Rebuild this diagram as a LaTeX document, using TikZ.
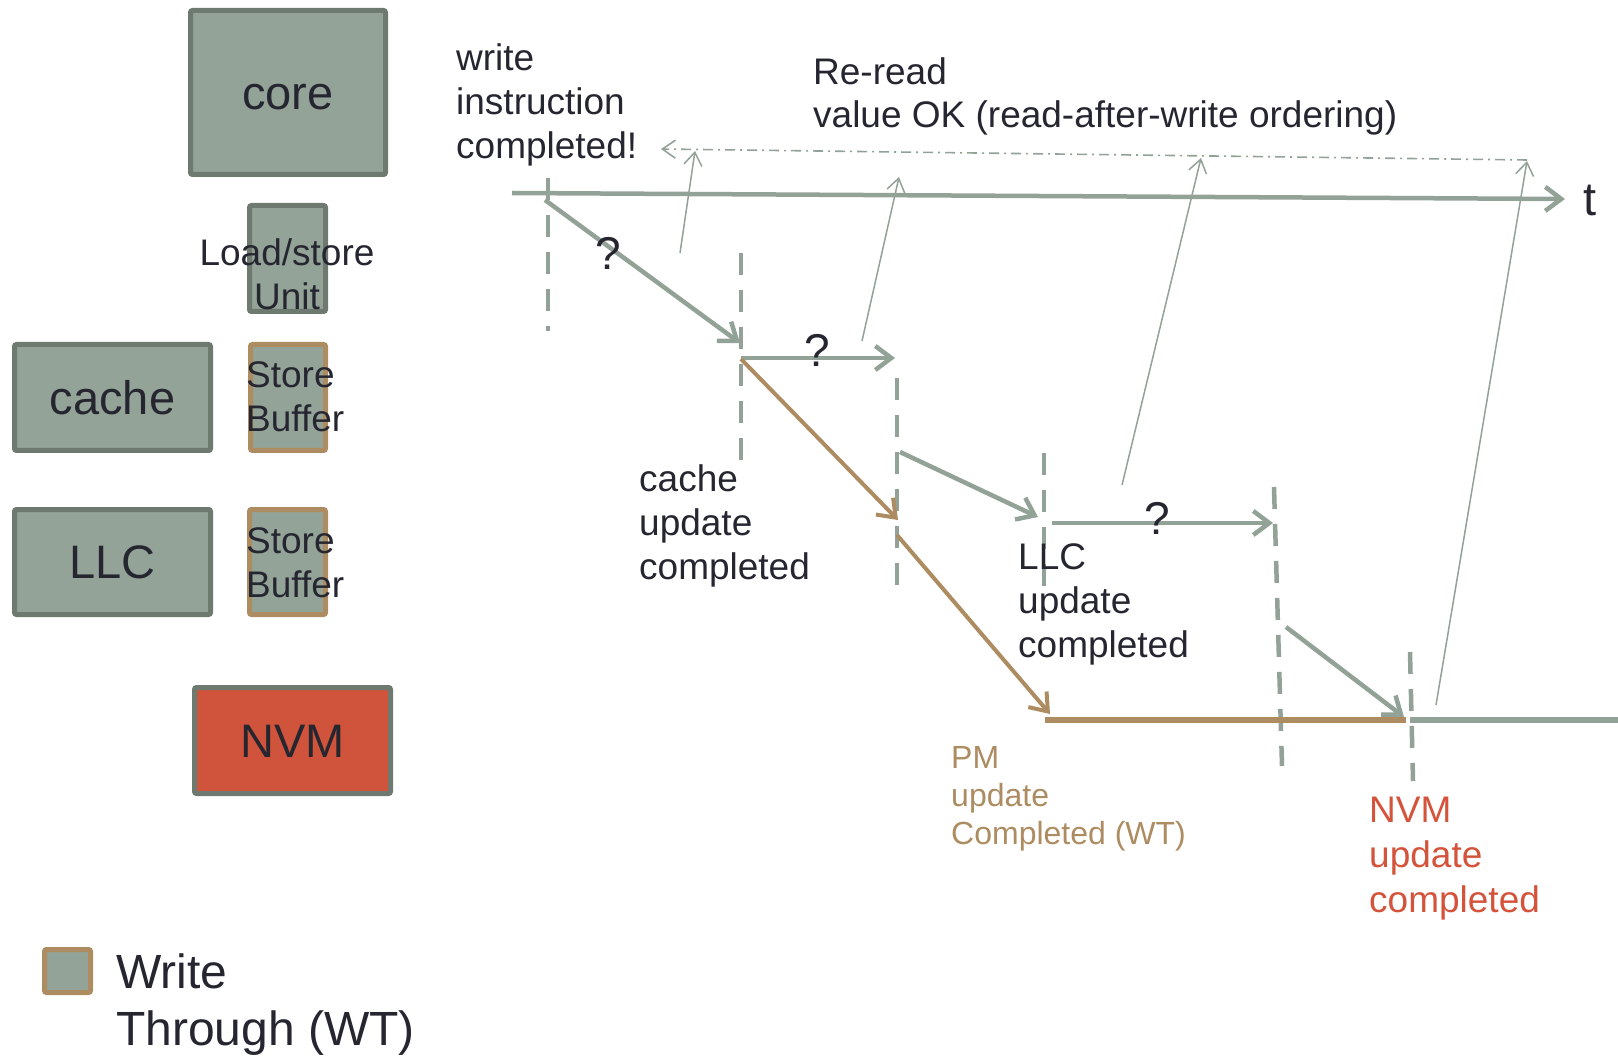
\documentclass[tikz,border=0pt]{standalone}
\usepackage{fontspec}
\setmainfont{Liberation Sans}
\usetikzlibrary{arrows.meta}

\definecolor{sage}{HTML}{93A397}
\definecolor{sageline}{HTML}{92A296}
\definecolor{sagethin}{HTML}{92A296}
\definecolor{frame}{HTML}{6E7A6F}
\definecolor{tan}{HTML}{AD8C62}
\definecolor{nvmred}{HTML}{CF543B}
\definecolor{redtext}{HTML}{D4533A}
\definecolor{ink}{HTML}{262631}

\newcommand\labelbig{\fontsize{47}{57}\selectfont}
\newcommand\labelmid{\fontsize{37}{44}\selectfont}
\newcommand\labelsmall{\fontsize{32}{38}\selectfont}

\begin{document}
\begin{tikzpicture}[x=1pt,y=-1pt,
  unit/.style={draw=frame, fill=sage, line width=5pt, rounded corners=2pt, inner sep=0pt, text=ink},
  wtunit/.style={unit, draw=tan},
  boxlabel/.style={font=\labelbig, text height=33.6pt, text depth=0pt},
  txt/.style={inner sep=0pt, text=ink, align=left, anchor=base west, font=\labelmid},
  qmark/.style={inner sep=0pt, text=ink, font=\fontsize{46}{50}\selectfont},
  thick arrow/.style={draw=sageline, line width=4.5pt,
    -{Straight Barb[length=16pt,width=24pt,line join=miter]}},
  wt arrow/.style={draw=tan, line width=4pt,
    -{Straight Barb[length=16pt,width=24pt,line join=miter]}},
  thin arrow/.style={draw=sagethin, line width=1.5pt,
    -{Straight Barb[length=13pt,width=18pt]}},
  marker/.style={draw=sageline, line width=4.5pt, dash pattern=on 22pt off 15pt},
]
\useasboundingbox (0,0) rectangle (1618,1056);

% ---- hierarchy on the left ----
\node[unit, boxlabel, minimum width=195pt, minimum height=164pt] (core) at (288,92.5) {core};
\node[unit, minimum width=76pt, minimum height=106pt] (lsu) at (287.5,258.5) {};
\node[inner sep=0pt, text=ink, align=center, anchor=base, font=\labelmid] (lsutext) at (287,310) {Load/store\\Unit};

\node[unit, boxlabel, minimum width=196pt, minimum height=106pt] (cache) at (112.5,397.5) {cache};
\node[wtunit, minimum width=75pt, minimum height=106pt] (sbone) at (288,397.5) {};
\node[txt] (sbonetext) at (246,432) {Store\\Buffer};

\node[unit, boxlabel, minimum width=196pt, minimum height=105pt] (llc) at (112.5,562) {LLC};
\node[wtunit, minimum width=76pt, minimum height=105pt] (sbtwo) at (287.5,562) {};
\node[txt] (sbtwotext) at (246,597) {Store\\Buffer};

\node[unit, boxlabel, fill=nvmred, minimum width=196pt, minimum height=106pt] (nvm) at (292.5,740.5) {NVM};

% ---- legend ----
\node[wtunit, minimum width=46pt, minimum height=43pt] (wtkey) at (67.5,971) {};
\node[txt, font=\fontsize{48}{57}\selectfont] (wtlabel) at (116,1045) {Write\\Through (WT)};

% ---- time line ----
\coordinate (t0) at (512,193);
\coordinate (t1) at (1565,199);
\draw[draw=sageline, line width=4.5pt, -{Straight Barb[length=16pt,width=24pt]}] (t0) -- (t1);
\node[inner sep=0pt, text=ink, anchor=base west, font=\labelbig] (tlabel) at (1583,216) {t};

% event markers
\coordinate (m1a) at (548,178);  \coordinate (m1b) at (548,331);
\coordinate (m2a) at (741,253);  \coordinate (m2b) at (741,460);
\coordinate (m3a) at (897,378);  \coordinate (m3b) at (897,586);
\coordinate (m4a) at (1044,453); \coordinate (m4b) at (1044,587);
\coordinate (m5a) at (1274,487); \coordinate (m5b) at (1282,766);
\coordinate (m6a) at (1410,652); \coordinate (m6b) at (1413,781);
\draw[marker] (m1a) -- (m1b);
\draw[marker] (m2a) -- (m2b);
\draw[marker] (m3a) -- (m3b);
\draw[marker] (m4a) -- (m4b);
\draw[marker] (m5a) -- (m5b);
\draw[marker] (m6a) -- (m6b);

% write propagation
\coordinate (p1) at (545,200);   \coordinate (p2) at (740,343);
\coordinate (p3) at (741,358);   \coordinate (p4) at (895,358);
\coordinate (p5) at (900,452);   \coordinate (p6) at (1038,517);
\coordinate (p7) at (1052,523);  \coordinate (p8) at (1273,523);
\coordinate (p9) at (1286,627);  \coordinate (p10) at (1404,717);
\coordinate (p11) at (1410,720); \coordinate (p12) at (1618,720);
\draw[thick arrow] (p1) -- (p2);
\draw[thick arrow] (p3) -- (p4);
\draw[thick arrow] (p5) -- (p6);
\draw[thick arrow] (p7) -- (p8);
\draw[thick arrow] (p9) -- (p10);
\draw[draw=sageline, line width=6pt] (p11) -- (p12);

\node[qmark] (qone) at (608,253) {?};
\node[qmark] (qtwo) at (817,350) {?};
\node[qmark] (qthree) at (1157,518) {?};

% write-through path
\coordinate (w1) at (741,359);  \coordinate (w2) at (898,520);
\coordinate (w3) at (897,535);  \coordinate (w4) at (1050,714);
\coordinate (w5) at (1045,720); \coordinate (w6) at (1406,720);
\draw[wt arrow] (w1) -- (w2);
\draw[wt arrow] (w3) -- (w4);
\draw[draw=tan, line width=6pt] (w5) -- (w6);

% re-read of the value
\coordinate (r0) at (1527,160);
\coordinate (r1) at (661,149);
\draw[draw=sagethin, line width=1.6pt, dash pattern=on 10pt off 5pt on 2pt off 5pt,
  -{Straight Barb[length=13pt,width=18pt]}] (r0) -- (r1);
\coordinate (s1a) at (680,253);  \coordinate (s1b) at (695,151);
\coordinate (s2a) at (862,341);  \coordinate (s2b) at (899,177);
\coordinate (s3a) at (1122,485); \coordinate (s3b) at (1201,158);
\coordinate (s4a) at (1436,705); \coordinate (s4b) at (1527,161);
\draw[thin arrow] (s1a) -- (s1b);
\draw[thin arrow] (s2a) -- (s2b);
\draw[thin arrow] (s3a) -- (s3b);
\draw[thin arrow] (s4a) -- (s4b);

% ---- annotations ----
\node[txt] (wdone) at (456,159) {write\\instruction\\completed!};
\node[txt, font=\fontsize{37}{43}\selectfont] (reread) at (813,128) {Re-read\\value OK (read-after-write ordering)};
\node[txt] (cdone) at (639,579) {cache\\update\\completed};
\node[txt] (ldone) at (1018,657) {LLC\\update\\completed};
\node[txt, font=\labelsmall, text=tan] (pmdone) at (951,844) {PM\\update\\Completed (WT)};
\node[txt, font=\fontsize{37}{45}\selectfont, text=redtext] (ndone) at (1369,912) {NVM\\update\\completed};
\end{tikzpicture}
\end{document}
